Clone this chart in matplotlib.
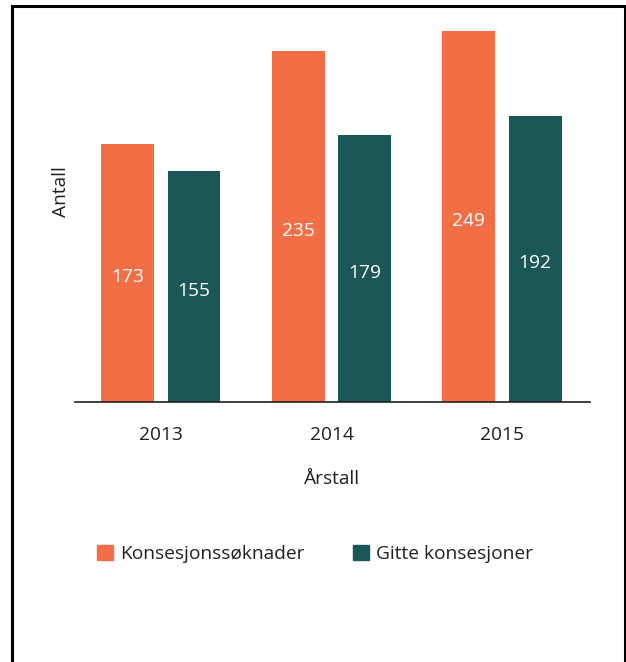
import numpy as np
import matplotlib
matplotlib.use('Agg')
import matplotlib.pyplot as plt
from matplotlib.patches import Patch
from matplotlib.lines import Line2D

years = ['2013', '2014', '2015']
soknader = [173, 235, 249]
gitte = [155, 179, 192]
series_names = ['Konsesjonssøknader', 'Gitte konsesjoner']

orange = '#F26E47'
teal = '#1B5756'
txt = '#231F20'

plt.rcParams['font.family'] = ['Open Sans', 'DejaVu Sans']
fs = 13.8

fig = plt.figure(figsize=(6.26, 6.62), dpi=100)
ax = fig.add_axes([0.1198, 0.3927, 0.8227, 0.577])

x = np.arange(len(years))
w = 0.31
off = 0.194
b1 = ax.bar(x - off, soknader, w, color=orange)
b2 = ax.bar(x + off, gitte, w, color=teal)

for bars, vals in [(b1, soknader), (b2, gitte)]:
    for rect, v in zip(bars, vals):
        ax.text(rect.get_x() + rect.get_width() / 2, v / 2 - 3, str(v),
                ha='center', va='center', color='white', fontsize=fs)

ax.set_xlim(-0.504, 2.516)
ax.set_ylim(0, 256)
ax.set_xticks(x)
ax.set_xticklabels(years, fontsize=fs, color=txt)
ax.tick_params(axis='x', length=0, pad=17)
ax.set_yticks([])
for s in ['top', 'right', 'left']:
    ax.spines[s].set_visible(False)
ax.spines['bottom'].set_linewidth(1.2)
ax.spines['bottom'].set_color('#231F20')

ax.set_xlabel('Årstall', fontsize=fs, color=txt, labelpad=19)
ax.set_ylabel('Antall', fontsize=fs, color=txt)
ax.yaxis.set_label_coords(-0.01, 0.55)

handles = [Patch(color=orange), Patch(color=teal)]
fig.legend(handles, series_names, loc='center', bbox_to_anchor=(0.503, 0.163),
           ncol=2, frameon=False, fontsize=fs, handlelength=0.85, handleheight=0.85,
           handletextpad=0.35, columnspacing=2.5, labelcolor=txt)

# frame round the figure (open at the bottom)
fx = [12 / 626, 12 / 626, 624.5 / 626, 624.5 / 626]
fy = [0.0, 1 - 6 / 662, 1 - 6 / 662, 0.0]
fig.add_artist(Line2D(fx, fy, color='black', linewidth=2.2,
                      transform=fig.transFigure, solid_joinstyle='miter'))

fig.savefig('out.png', dpi=100)
